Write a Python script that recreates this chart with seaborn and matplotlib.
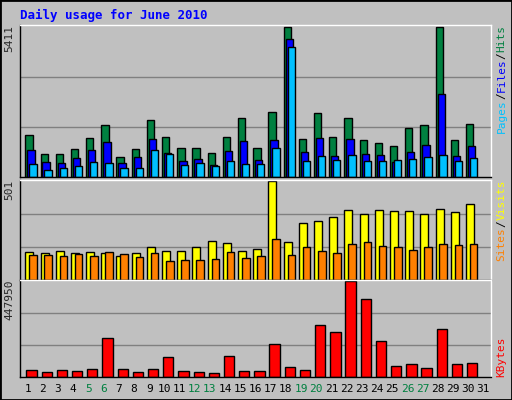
import matplotlib
matplotlib.use("Agg")
import matplotlib.pyplot as plt
import seaborn as sns
import numpy as np

sns.set_theme(style="white")
plt.rcParams['font.family'] = ['DejaVu Sans Mono', 'DejaVu Sans']

days = list(range(1, 32))
hits_y = [406,463,463,448,415,376,472,448,364,412,445,445,460,412,358,445,340,88,418,343,412,358,421,430,439,385,376,88,421,373]
files_y = [451,487,490,475,451,427,490,472,418,460,484,478,496,454,424,481,421,124,457,415,469,418,463,466,487,457,436,286,469,439]
pages_y = [493,508,505,499,487,490,505,505,451,463,496,490,499,484,493,493,445,148,484,469,481,466,484,484,481,478,472,466,484,475]
hits = [round((530 - v) / 442 * 5411) for v in hits_y]
files = [round((530 - v) / 442 * 5411) for v in files_y]
pages = [round((530 - v) / 442 * 5411) for v in pages_y]
visits_y = [226,229,223,229,226,229,238,229,214,223,223,214,196,202,223,217,28,199,145,139,130,109,121,109,112,112,121,106,115,91]
sites_y = [235,235,238,232,238,226,232,241,229,253,250,250,247,226,244,238,190,235,214,223,229,205,199,211,214,220,214,205,208,205]
visits = [round((305 - v) / 277 * 501) for v in visits_y]
sites = [round((305 - v) / 277 * 501) for v in sites_y]
kb_y = [583,589,583,586,580,490,580,589,580,544,586,589,592,541,586,586,508,574,583,454,475,328,379,499,571,565,577,466,565,562]
kbytes = [round((602 - v) / 274 * 447950) for v in kb_y]
weekend = [5, 6, 12, 13, 19, 20, 26, 27]
title = "Daily usage for June 2010"

BG = "#C0C0C0"
fig = plt.figure(figsize=(5.12, 4.0), dpi=100, facecolor=BG)
fig.patches.append(plt.Rectangle((0, 0), 1, 1, transform=fig.transFigure, fill=False, ec="black", lw=2))
W, H = 512, 400
def ax_at(x0, y0, x1, y1):
    return fig.add_axes([x0 / W, 1 - y1 / H, (x1 - x0) / W, (y1 - y0) / H])

ax1 = ax_at(20, 25, 491, 177)
ax2 = ax_at(20, 180, 491, 280)
ax3 = ax_at(20, 280, 491, 377)
n = len(hits)
d = np.array(days[:n])
ek = dict(edgecolor="black", linewidth=1, align="edge")
ax1.bar(d - 0.15, hits, 0.48, color="#008040", **ek)
ax1.bar(d - 0.02, files, 0.48, color="#0000FF", **ek)
ax1.bar(d + 0.11, pages, 0.48, color="#00C0FF", **ek)
ax1.set_ylim(0, max(hits) * 1.01)
ax2.bar(d - 0.15, visits, 0.53, color="#FFFF00", **ek)
ax2.bar(d + 0.11, sites, 0.5, color="#FF8000", **ek)
ax2.set_ylim(0, max(visits) * 1.01)
ax3.bar(d - 0.08, kbytes, 0.68, color="#FF0000", **ek)
ax3.set_ylim(0, max(kbytes) * 1.01)

for ax, top in ((ax1, max(hits)), (ax2, max(visits)), (ax3, max(kbytes))):
    ax.set_facecolor(BG)
    ax.set_xlim(0.5, 31.5)
    for f in (1/3, 2/3):
        ax.axhline(top * f, color="#808080", lw=1, zorder=0)
    ax.set_xticks([])
    ax.set_yticks([])
    for s in ax.spines.values():
        s.set_color("black")
        s.set_linewidth(1)
    ax.spines["right"].set_color("white")
    ax.spines["top"].set_color("white")
    ax.text(-0.012, 1.0, str(top), transform=ax.transAxes, rotation=90,
            ha="right", va="top", fontsize=8)

fig.text(20 / W, 1 - 15 / H, title, color="#0000FF", fontsize=9, fontweight="bold", va="center")

def side(ax, parts):
    y = 0.0
    x = 1.012
    # build bottom-to-top
    tot = sum(len(p[0]) for p in parts)
    pos = 1.0
    for txt, col in parts:
        ax.text(x, pos, txt, transform=ax.transAxes, rotation=90, ha="left", va="top",
                fontsize=8, color=col)
        pos -= len(txt) * 0.045 * (150 / ax.bbox.height)
side(ax1, [("Hits", "#008040"), ("/", "black"), ("Files", "#0000FF"), ("/", "black"), ("Pages", "#00C0FF")])
side(ax2, [("Visits", "#FFFF00"), ("/", "black"), ("Sites", "#FF8000")])
ax3.text(1.012, 0.0, "KBytes", transform=ax3.transAxes, rotation=90, ha="left", va="bottom", fontsize=8, color="#FF0000")

for day in days:
    x = 20 + (day - 0.5) / 31 * 471
    fig.text(x / W, 1 - 389 / H, str(day), ha="center", va="center", fontsize=8,
             color="#008040" if day in weekend else "black")

fig.savefig("out.png", dpi=100, facecolor=BG)
